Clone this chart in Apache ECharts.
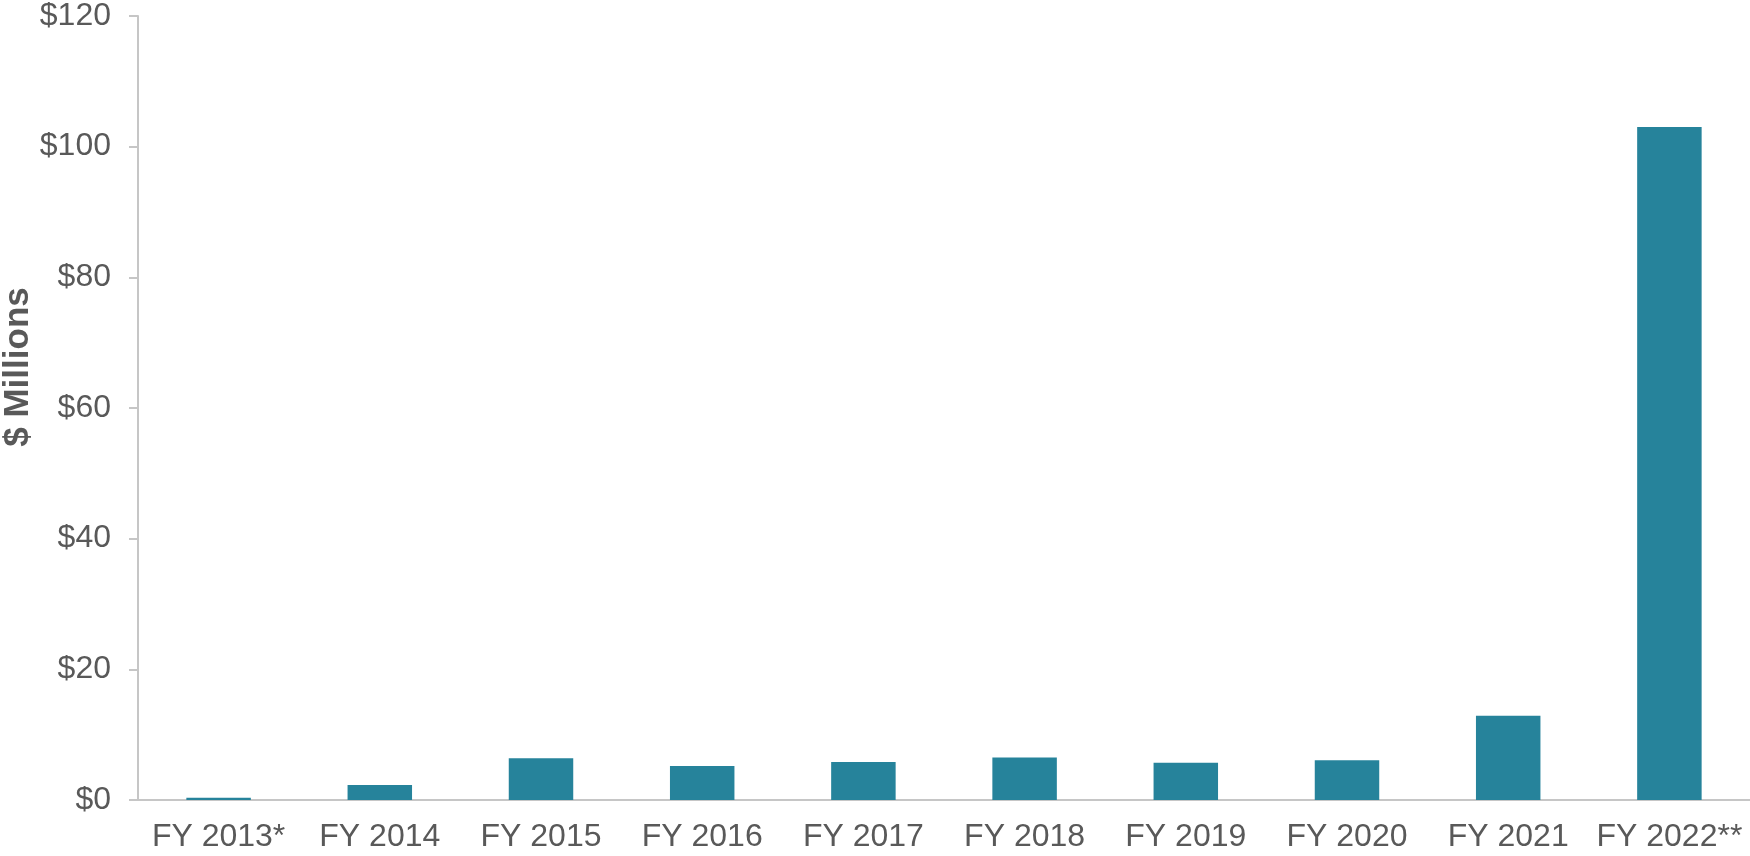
<!DOCTYPE html>
<html lang="en">
<head>
    <meta charset="UTF-8">
    <title>$ Millions by fiscal year</title>
    <script src="https://cdn.jsdelivr.net/npm/echarts@6/dist/echarts.min.js"></script>
    <style>
        html, body { margin: 0; padding: 0; background: #fff; }
        #chartmain { width: 1750px; height: 856px; }
    </style>
</head>
<body>
<div id="chartmain"></div>
<script>
    // data
    var categories = ['FY 2013*', 'FY 2014', 'FY 2015', 'FY 2016', 'FY 2017',
        'FY 2018', 'FY 2019', 'FY 2020', 'FY 2021', 'FY 2022**'];
    var values = [0.35, 2.3, 6.4, 5.2, 5.8, 6.5, 5.7, 6.1, 12.9, 103.0];
    var yMin = 0, yMax = 120, yStep = 20;

    var textColor = '#595959';
    var axisColor = '#c6c6c6';

    var option = {
        animation: false,
        grid: { left: 138, right: 0, top: 16, bottom: 56, outerBoundsMode: 'none', containLabel: false },
        xAxis: {
            type: 'category',
            data: categories,
            axisLine: { lineStyle: { color: axisColor, width: 2 } },
            axisTick: { show: false },
            axisLabel: {
                interval: 0,
                color: textColor,
                fontFamily: 'Liberation Sans, Arial, sans-serif',
                fontSize: 32,
                margin: 21
            }
        },
        yAxis: {
            type: 'value',
            min: yMin,
            max: yMax,
            interval: yStep,
            name: '$ Millions',
            nameLocation: 'middle',
            nameRotate: 90,
            nameGap: 102,
            nameMoveOverlap: false,
            nameTextStyle: {
                color: textColor,
                fontFamily: 'Liberation Sans, Arial, sans-serif',
                fontSize: 35,
                fontWeight: 'bold',
                padding: [0, 0, 0, 82]
            },
            axisLine: { show: true, lineStyle: { color: axisColor, width: 2 } },
            axisTick: { show: true, length: 9, lineStyle: { color: axisColor, width: 2 } },
            splitLine: { show: false },
            axisLabel: {
                color: textColor,
                fontFamily: 'Liberation Sans, Arial, sans-serif',
                fontSize: 32,
                margin: 27,
                formatter: '${value}'
            }
        },
        series: [{
            type: 'bar',
            data: values,
            barWidth: '40%',
            itemStyle: { color: '#26839b' }
        }]
    };

    var myChart = echarts.init(document.getElementById('chartmain'));
    myChart.setOption(option);
</script>
</body>
</html>
